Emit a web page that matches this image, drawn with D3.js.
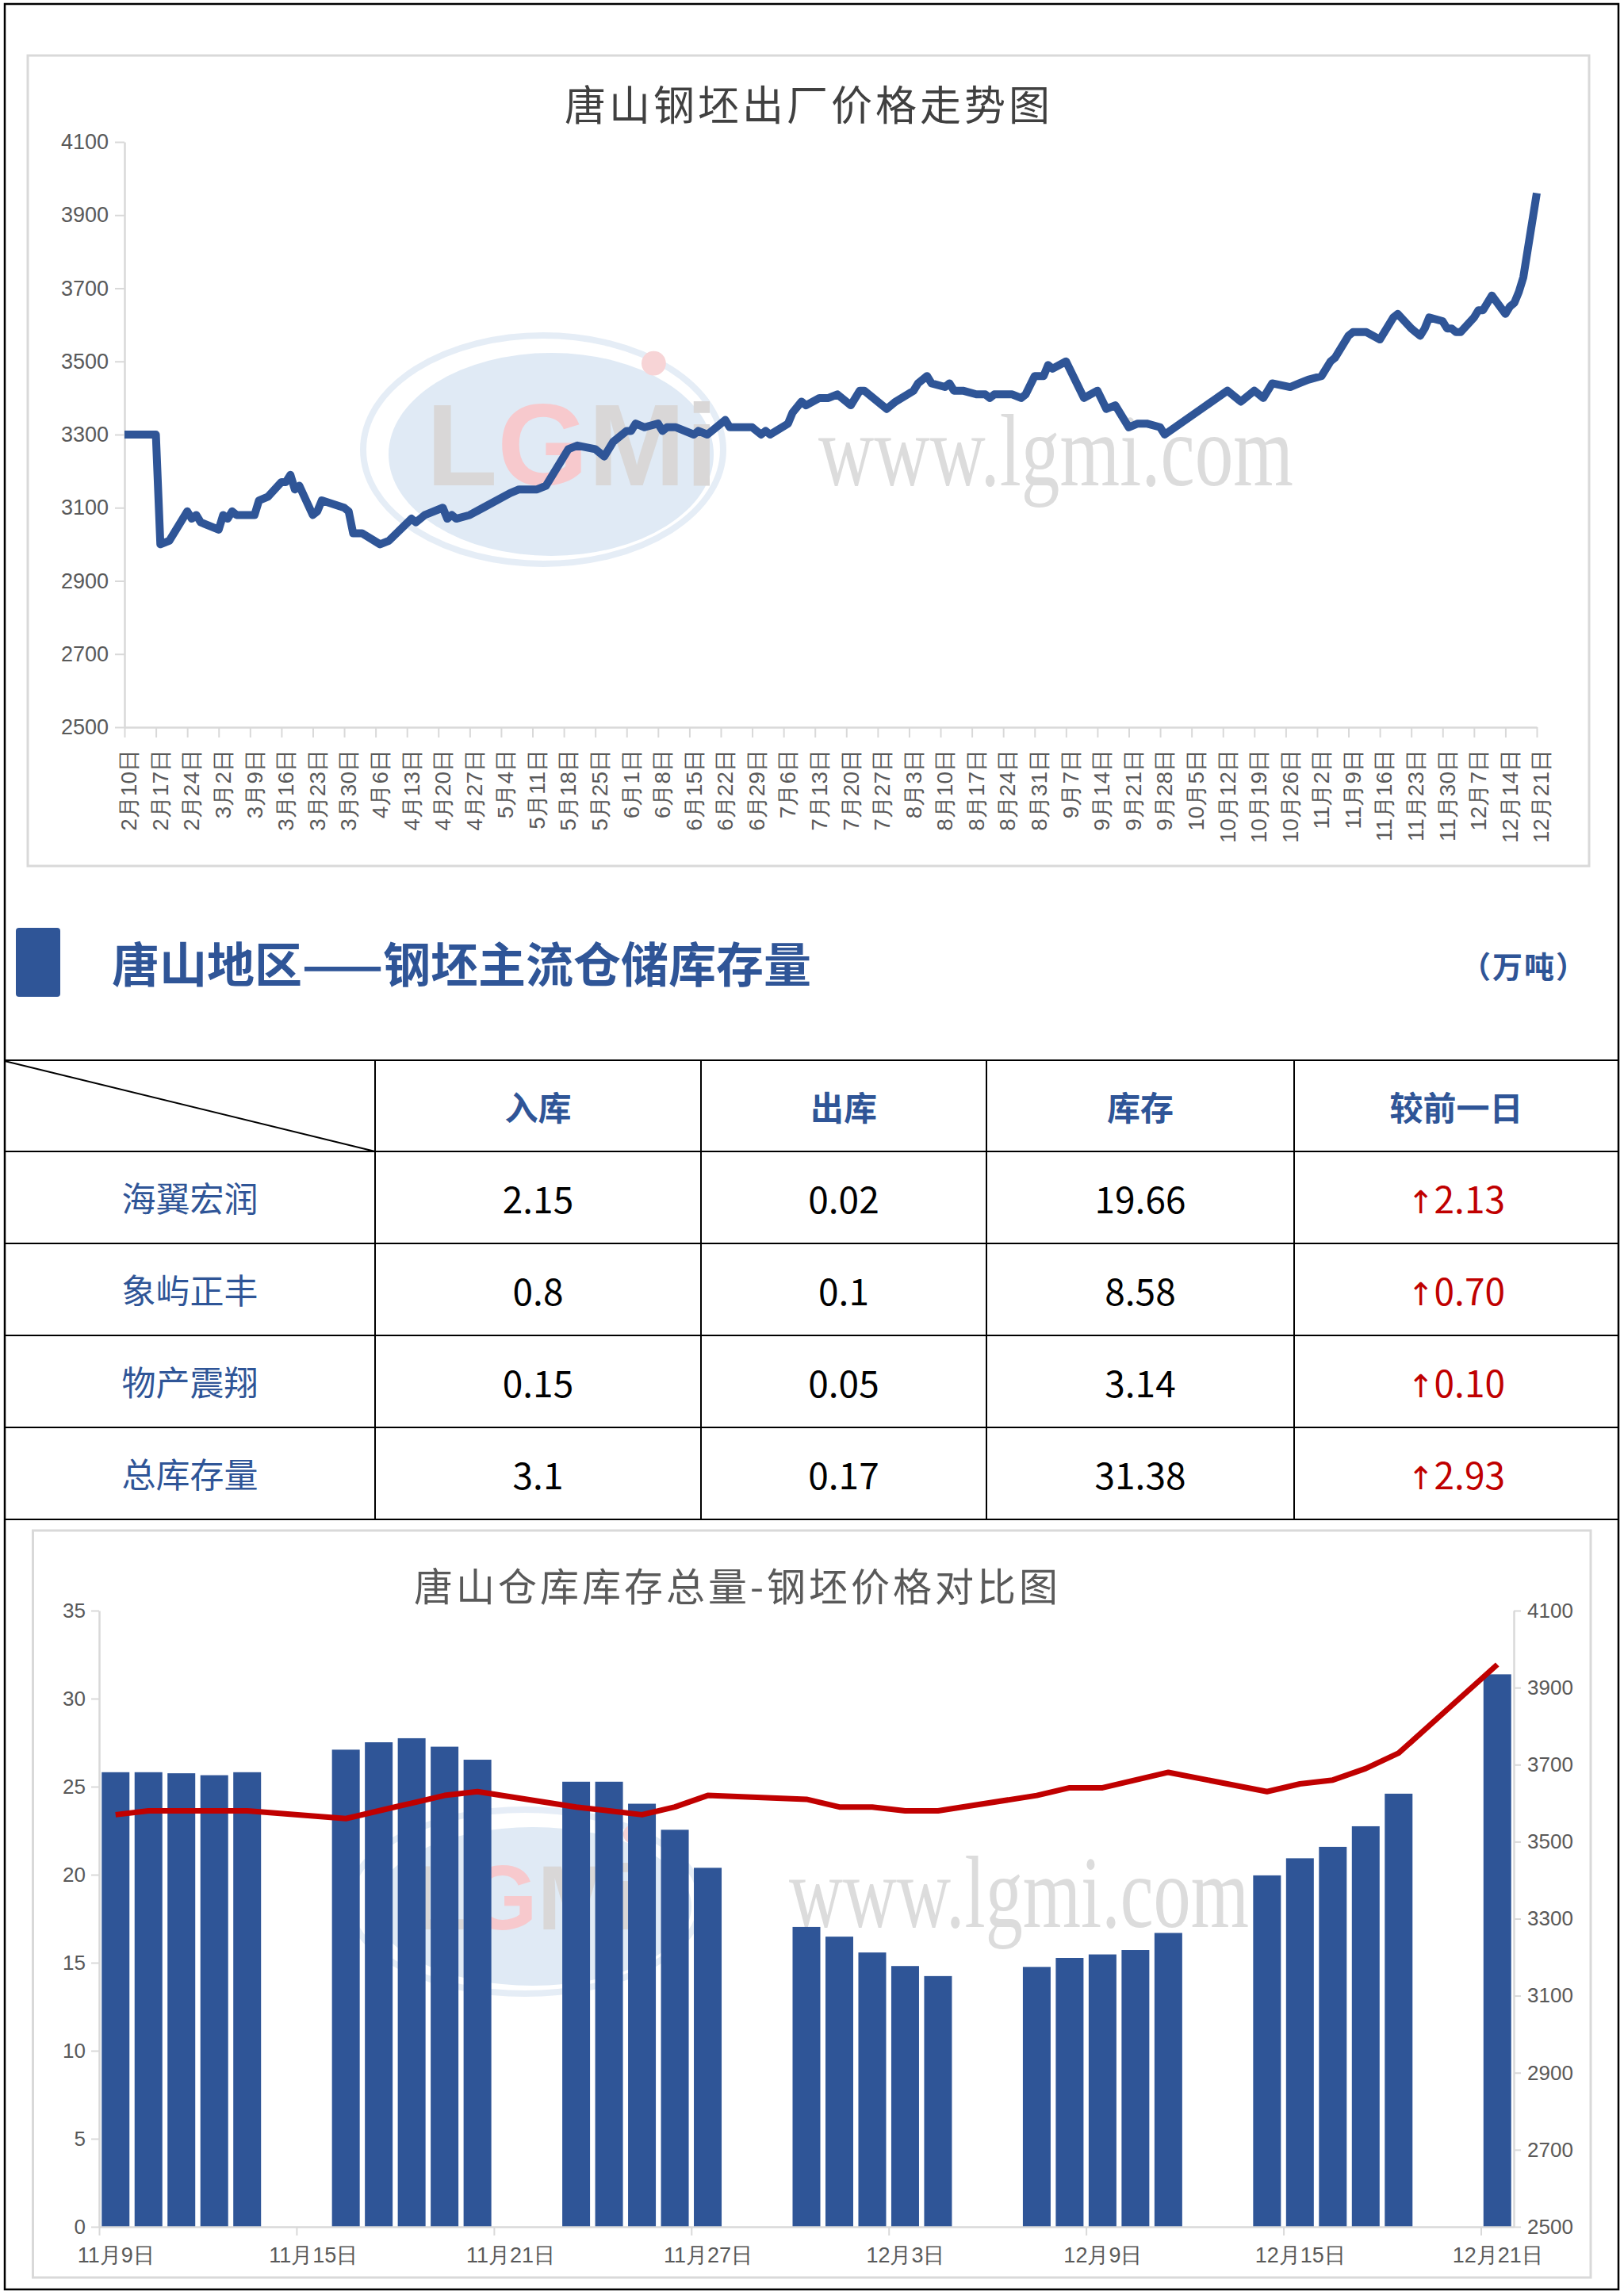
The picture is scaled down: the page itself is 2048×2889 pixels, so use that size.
<!DOCTYPE html>
<html>
<head>
<meta charset="utf-8">
<script src="https://cdn.jsdelivr.net/npm/d3@7"></script>
<style>
  body { margin: 0; background: #fff; }
  svg { display: block; }
</style>
</head>
<body>
<div id="page"></div>
<script>
// price series (元/吨)
var priceDates = [
  "02-10","02-17","02-18","02-20","02-21","02-24","02-25","02-26","02-27",
  "03-02","03-03","03-04","03-05","03-06","03-10","03-11","03-13","03-16","03-17","03-18","03-19","03-20",
  "03-23","03-24","03-25","03-30","03-31",
  "04-01","04-03","04-07","04-09","04-14","04-15","04-17","04-21","04-22","04-23","04-24","04-27","04-30",
  "05-06","05-08","05-12","05-14","05-19","05-21","05-25","05-27","05-29",
  "06-01","06-02","06-03","06-05","06-08","06-09","06-10","06-12","06-16","06-17","06-19","06-23","06-24","06-29",
  "07-01","07-02","07-03","07-07","07-08","07-10","07-11","07-14","07-16","07-18","07-21","07-23","07-24","07-29","07-31",
  "08-04","08-05","08-07","08-08","08-11","08-12","08-13","08-15","08-18","08-20","08-21","08-22","08-26","08-28","08-29","08-31",
  "09-02","09-03","09-04","09-07","09-11","09-14","09-16","09-18","09-21","09-23","09-25","09-28","09-29",
  "10-13","10-16","10-19","10-21","10-23","10-27","10-29","10-31",
  "11-03","11-05","11-06","11-09","11-10","11-11","11-12","11-13","11-16","11-17","11-18","11-19","11-20",
  "11-23","11-24","11-25","11-26","11-27","11-30",
  "12-01","12-02","12-03","12-04","12-07","12-08","12-09","12-10","12-11","12-14","12-15","12-16","12-17","12-18","12-21"
];
var priceValues = [
  3300,3300,3000,3010,3030,3090,3070,3080,3060,
  3040,3080,3070,3090,3080,3080,3120,3130,3170,3170,3190,3150,3160,
  3080,3090,3120,3100,3090,
  3030,3030,3000,3010,3070,3060,3080,3100,3070,3080,3070,3080,3100,
  3140,3150,3150,3160,3260,3270,3260,3240,3280,
  3310,3310,3330,3320,3330,3310,3320,3320,3300,3310,3300,3340,3320,3320,
  3300,3310,3300,3330,3360,3390,3380,3400,3400,3410,3380,3420,3420,3370,3390,
  3420,3440,3460,3440,3430,3440,3420,3420,3410,3410,3400,3410,3410,3400,3410,3460,
  3460,3490,3480,3500,3400,3420,3370,3380,3320,3330,3330,3320,3300,
  3420,3390,3420,3400,3440,3430,3440,3450,
  3460,3500,3510,3570,3580,3580,3580,3580,3560,3580,3600,3620,3630,
  3590,3580,3570,3590,3620,3610,
  3590,3590,3580,3580,3620,3640,3640,3660,3680,3630,3650,3660,3690,3730,3960
];
var topTicks = [
  "02-10","02-17","02-24","03-02","03-09","03-16","03-23","03-30","04-06","04-13","04-20","04-27",
  "05-04","05-11","05-18","05-25","06-01","06-08","06-15","06-22","06-29","07-06","07-13","07-20","07-27",
  "08-03","08-10","08-17","08-24","08-31","09-07","09-14","09-21","09-28","10-05","10-12","10-19","10-26",
  "11-02","11-09","11-16","11-23","11-30","12-07","12-14","12-21"
];
var topYTicks = [2500, 2700, 2900, 3100, 3300, 3500, 3700, 3900, 4100];

// warehouse stock (万吨)
var stockDates = [
  "11-09","11-10","11-11","11-12","11-13","11-16","11-17","11-18","11-19","11-20",
  "11-23","11-24","11-25","11-26","11-27","11-30","12-01","12-02","12-03","12-04",
  "12-07","12-08","12-09","12-10","12-11","12-14","12-15","12-16","12-17","12-18","12-21"
];
var stockValues = [
  25.82,25.82,25.76,25.65,25.82,27.10,27.52,27.75,27.27,26.53,
  25.28,25.28,24.03,22.55,20.39,17.03,16.48,15.58,14.81,14.24,
  14.76,15.27,15.47,15.72,16.69,19.96,20.93,21.58,22.75,24.60,31.38
];
var bottomTicks = ["11-09","11-15","11-21","11-27","12-03","12-09","12-15","12-21"];
var leftTicks = [0, 5, 10, 15, 20, 25, 30, 35];
var rightTicks = [2500, 2700, 2900, 3100, 3300, 3500, 3700, 3900, 4100];

// table
var tableHeader = ["入库", "出库", "库存", "较前一日"];
var tableRows = ["海翼宏润", "象屿正丰", "物产震翔", "总库存量"];
var inValues = ["2.15", "0.8", "0.15", "3.1"];
var outValues = ["0.02", "0.1", "0.05", "0.17"];
var stockNow = ["19.66", "8.58", "3.14", "31.38"];
var changeValues = ["2.13", "0.70", "0.10", "2.93"];

var blue = "#2F5597", red = "#C00000", axisGrey = "#d9d9d9", labelGrey = "#595959";
var cjk = "\"Noto Sans CJK SC\", \"Noto Sans\", sans-serif";
var parse = function(s) { return d3.utcParse("%Y-%m-%d")("2020-" + s); };
var fmt = d3.utcFormat("%-m月%-d日");

var svg = d3.select("#page").append("svg").attr("width", 2048).attr("height", 2889)
  .style("font-family", cjk);
svg.append("rect").attr("width", 2048).attr("height", 2889).attr("fill", "#fff");

// watermark helper
function watermark(cx, cy, rx, ry, tx, ty, tw) {
  var g = svg.append("g").attr("opacity", 0.7);
  g.append("ellipse").attr("cx", cx).attr("cy", cy).attr("rx", rx + 22).attr("ry", ry + 16)
    .attr("fill", "none").attr("stroke", "#dbe6f3").attr("stroke-width", 8);
  g.append("ellipse").attr("cx", cx + 10).attr("cy", cy + 6).attr("rx", rx).attr("ry", ry).attr("fill", "#d3e2f2");
  var t = g.append("text").attr("x", cx - rx * 0.72).attr("y", cy + ry * 0.35)
    .style("font-family", "\"Liberation Sans\", sans-serif").attr("font-weight", "bold").attr("font-size", ry * 1.15);
  t.append("tspan").attr("fill", "#c9c7c7").text("L");
  t.append("tspan").attr("fill", "#f4b3b8").text("G");
  t.append("tspan").attr("fill", "#c9c7c7").text("Mi");
  g.append("circle").attr("cx", cx + rx * 0.68).attr("cy", cy - ry * 0.85).attr("r", ry * 0.12).attr("fill", "#f4c2c6");
  svg.append("text").attr("x", tx).attr("y", ty).style("font-family", "\"Liberation Serif\", serif")
    .attr("font-size", 130).attr("fill", "#dcdcdc").attr("textLength", tw).attr("lengthAdjust", "spacingAndGlyphs")
    .text("www.lgmi.com");
}

function styleAxis(g) {
  g.select(".domain").attr("stroke", axisGrey).attr("stroke-width", 2.5);
  g.selectAll(".tick line").attr("stroke", axisGrey).attr("stroke-width", 2);
  g.selectAll(".tick text").attr("fill", labelGrey).attr("font-family", null);
}

// ---------- top chart ----------
svg.append("rect").attr("x", 35).attr("y", 70).attr("width", 1969).attr("height", 1022)
  .attr("fill", "none").attr("stroke", axisGrey).attr("stroke-width", 3);
svg.append("text").attr("x", 1020).attr("y", 133).attr("dy", "0.36em").attr("text-anchor", "middle")
  .attr("font-size", 52).attr("letter-spacing", 4).attr("fill", "#404040").text("唐山钢坯出厂价格走势图");

watermark(685, 567, 205, 128, 1032, 612, 599);

var x1 = d3.scaleUtc().domain([parse("02-10"), parse("12-21")]).range([157, 1938]);
var y1 = d3.scaleLinear().domain([2500, 4100]).range([917, 179]);

svg.append("g").attr("transform", "translate(157,0)")
  .call(d3.axisLeft(y1).tickValues(topYTicks).tickFormat(d3.format("d")).tickSize(12).tickSizeOuter(0).tickPadding(8))
  .call(styleAxis)
  .selectAll(".tick text").attr("font-size", 27);

var xAxisTop = svg.append("g").attr("transform", "translate(0,917)")
  .call(d3.axisBottom(x1).tickValues(topTicks.map(parse)).tickFormat(fmt).tickSize(13).tickSizeOuter(0))
  .call(styleAxis);
xAxisTop.selectAll(".tick text")
  .attr("font-size", 28)
  .attr("text-anchor", "end")
  .attr("transform", "rotate(-90)")
  .attr("x", -28).attr("y", 5).attr("dy", "0.35em");

var pricePts = priceDates.map(function(d, i) { return { date: parse(d), value: priceValues[i] }; });

svg.append("path").datum(pricePts)
  .attr("fill", "none").attr("stroke", blue).attr("stroke-width", 10)
  .attr("stroke-linejoin", "round")
  .attr("d", d3.line().x(function(d) { return x1(d.date); }).y(function(d) { return y1(d.value); }));

// ---------- section header ----------
svg.append("rect").attr("x", 20).attr("y", 1170).attr("width", 56).attr("height", 87).attr("rx", 4).attr("fill", blue);
svg.append("text").attr("x", 141).attr("y", 1217).attr("dy", "0.36em").attr("font-size", 60)
  .attr("font-weight", "bold").attr("fill", blue).text("唐山地区——钢坯主流仓储库存量");
svg.append("text").attr("x", 1922).attr("y", 1219).attr("dy", "0.36em").attr("text-anchor", "middle")
  .attr("font-size", 38).attr("font-weight", "bold").attr("letter-spacing", 2).attr("fill", blue).text("（万吨）");

// ---------- table ----------
var rowY = [1337, 1452, 1568, 1684, 1800, 1916];
var colX = [6, 473, 884, 1244, 1632, 2041];
var tbl = svg.append("g");
rowY.forEach(function(y) {
  tbl.append("line").attr("x1", 6).attr("x2", 2041).attr("y1", y).attr("y2", y).attr("stroke", "#000").attr("stroke-width", 2);
});
colX.slice(1, 5).forEach(function(x) {
  tbl.append("line").attr("x1", x).attr("x2", x).attr("y1", 1337).attr("y2", 1916).attr("stroke", "#000").attr("stroke-width", 2);
});
tbl.append("line").attr("x1", 6).attr("y1", 1338).attr("x2", 473).attr("y2", 1452).attr("stroke", "#000").attr("stroke-width", 2);

function colCenter(i) { return (colX[i] + colX[i + 1]) / 2; }
function rowCenter(i) { return (rowY[i] + rowY[i + 1]) / 2 + 3; }

tableHeader.forEach(function(h, j) {
  tbl.append("text").attr("x", colCenter(j + 1)).attr("y", rowCenter(0)).attr("dy", "0.36em")
    .attr("text-anchor", "middle").attr("font-size", 42).attr("font-weight", "bold").attr("fill", blue).text(h);
});
tableRows.forEach(function(r, i) {
  var cy = rowCenter(i + 1);
  tbl.append("text").attr("x", colCenter(0)).attr("y", cy).attr("dy", "0.36em").attr("text-anchor", "middle")
    .attr("font-size", 43).attr("fill", blue).text(r);
  [inValues[i], outValues[i], stockNow[i]].forEach(function(v, j) {
    tbl.append("text").attr("x", colCenter(j + 1)).attr("y", cy).attr("dy", "0.36em").attr("text-anchor", "middle")
      .attr("font-size", 46).attr("fill", "#000").text(v);
  });
  var t = tbl.append("text").attr("x", colCenter(4)).attr("y", cy).attr("dy", "0.36em").attr("text-anchor", "middle")
    .attr("font-size", 46).attr("fill", red);
  t.append("tspan").style("font-family", "\"DejaVu Sans\", sans-serif").attr("font-size", 40).text("↑");
  t.append("tspan").text(changeValues[i]);
});

// ---------- bottom chart ----------
svg.append("rect").attr("x", 41.5).attr("y", 1930).attr("width", 1964.5).attr("height", 942)
  .attr("fill", "none").attr("stroke", axisGrey).attr("stroke-width", 3);
svg.append("text").attr("x", 930).attr("y", 2001).attr("dy", "0.36em").attr("text-anchor", "middle")
  .attr("font-size", 49).attr("letter-spacing", 4).attr("fill", labelGrey).text("唐山仓库库存总量-钢坯价格对比图");

watermark(662, 2398, 200, 100, 995, 2430, 580);

var x2 = d3.scaleUtc().domain([parse("11-09"), parse("12-22")]).range([125, 1909]);
var yL = d3.scaleLinear().domain([0, 35]).range([2808, 2031]);
var yR = d3.scaleLinear().domain([2500, 4100]).range([2808, 2031]);
var dayW = x2(parse("11-10")) - x2(parse("11-09"));
var barW = 35;

svg.append("g").selectAll("rect")
  .data(stockDates.map(function(d, i) { return { date: parse(d), value: stockValues[i] }; }))
  .enter().append("rect")
  .attr("x", function(d) { return x2(d.date) + (dayW - barW) / 2; })
  .attr("y", function(d) { return yL(d.value); })
  .attr("width", barW)
  .attr("height", function(d) { return yL(0) - yL(d.value); })
  .attr("fill", blue);

svg.append("g").attr("transform", "translate(125,0)")
  .call(d3.axisLeft(yL).tickValues(leftTicks).tickSize(10).tickSizeOuter(0).tickPadding(7))
  .call(styleAxis)
  .selectAll(".tick text").attr("font-size", 26);

svg.append("g").attr("transform", "translate(1909,0)")
  .call(d3.axisRight(yR).tickValues(rightTicks).tickFormat(d3.format("d")).tickSize(9).tickSizeOuter(0).tickPadding(8))
  .call(styleAxis)
  .selectAll(".tick text").attr("font-size", 26);

svg.append("g").attr("transform", "translate(0,2808)")
  .call(d3.axisBottom(x2).tickValues(bottomTicks.map(parse)).tickFormat(fmt).tickSize(11).tickSizeOuter(0))
  .call(styleAxis)
  .selectAll(".tick text").attr("font-size", 27).attr("x", dayW / 2).attr("y", 36).attr("dy", "0.35em");

var recent = pricePts.filter(function(d) { return d.date >= parse("11-09"); });
svg.append("path").datum(recent)
  .attr("fill", "none").attr("stroke", red).attr("stroke-width", 7)
  .attr("stroke-linejoin", "round")
  .attr("d", d3.line()
    .x(function(d) { return x2(d.date) + dayW / 2; })
    .y(function(d) { return yR(d.value); }));

// page border
svg.append("rect").attr("x", 6).attr("y", 5).attr("width", 2035).attr("height", 2882)
  .attr("fill", "none").attr("stroke", "#000").attr("stroke-width", 2.5);
</script>
</body>
</html>
